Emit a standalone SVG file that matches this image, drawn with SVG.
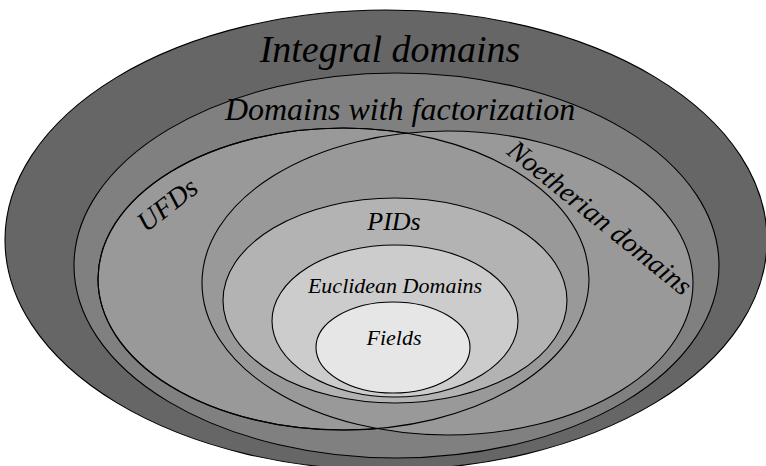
<svg xmlns="http://www.w3.org/2000/svg" width="766" height="466" viewBox="0 0 766 466">
<style>
.ring{stroke:#000;stroke-width:1.1}
.lbl{font-family:'Liberation Serif','DejaVu Serif',serif;font-style:italic;fill:#000;text-anchor:middle}
</style>
<rect width="766" height="466" fill="#fff"/>
<g id="integral-domains">
<ellipse class="ring" cx="386" cy="240" rx="381" ry="230" fill="#666666"/>
<text class="lbl" x="390" y="62" font-size="38">Integral domains</text>
</g>
<g id="domains-with-factorization">
<ellipse class="ring" cx="396.5" cy="265.5" rx="322.5" ry="192.5" fill="#808080"/>
<text class="lbl" x="400" y="120" font-size="32">Domains with factorization</text>
</g>
<g id="ufds">
<ellipse id="ufd-shape" class="ring" cx="343.5" cy="279" rx="245.5" ry="151" fill="#999999"/>
<text class="lbl" x="173" y="212" font-size="28" transform="rotate(-38 173 212)">UFDs</text>
</g>
<g id="noetherian-domains">
<ellipse class="ring" cx="447.5" cy="283" rx="245.5" ry="152" fill="#999999"/>
<text class="lbl" x="594" y="225" font-size="28" transform="rotate(39 594 225)">Noetherian domains</text>
</g>
<g id="ufd-outline">
<ellipse class="ring" cx="343.5" cy="279" rx="245.5" ry="151" fill="none"/>
</g>
<g id="pids">
<ellipse class="ring" cx="395" cy="300.5" rx="172" ry="102.5" fill="#b3b3b3"/>
<text class="lbl" x="394" y="230" font-size="26">PIDs</text>
</g>
<g id="euclidean-domains">
<ellipse class="ring" cx="395" cy="321" rx="123" ry="76" fill="#cccccc"/>
<text class="lbl" x="395" y="293" font-size="22">Euclidean Domains</text>
</g>
<g id="fields">
<ellipse class="ring" cx="393" cy="347.5" rx="77" ry="45.5" fill="#e6e6e6"/>
<text class="lbl" x="394" y="345" font-size="22">Fields</text>
</g>
<g id="connectors"></g>
</svg>
